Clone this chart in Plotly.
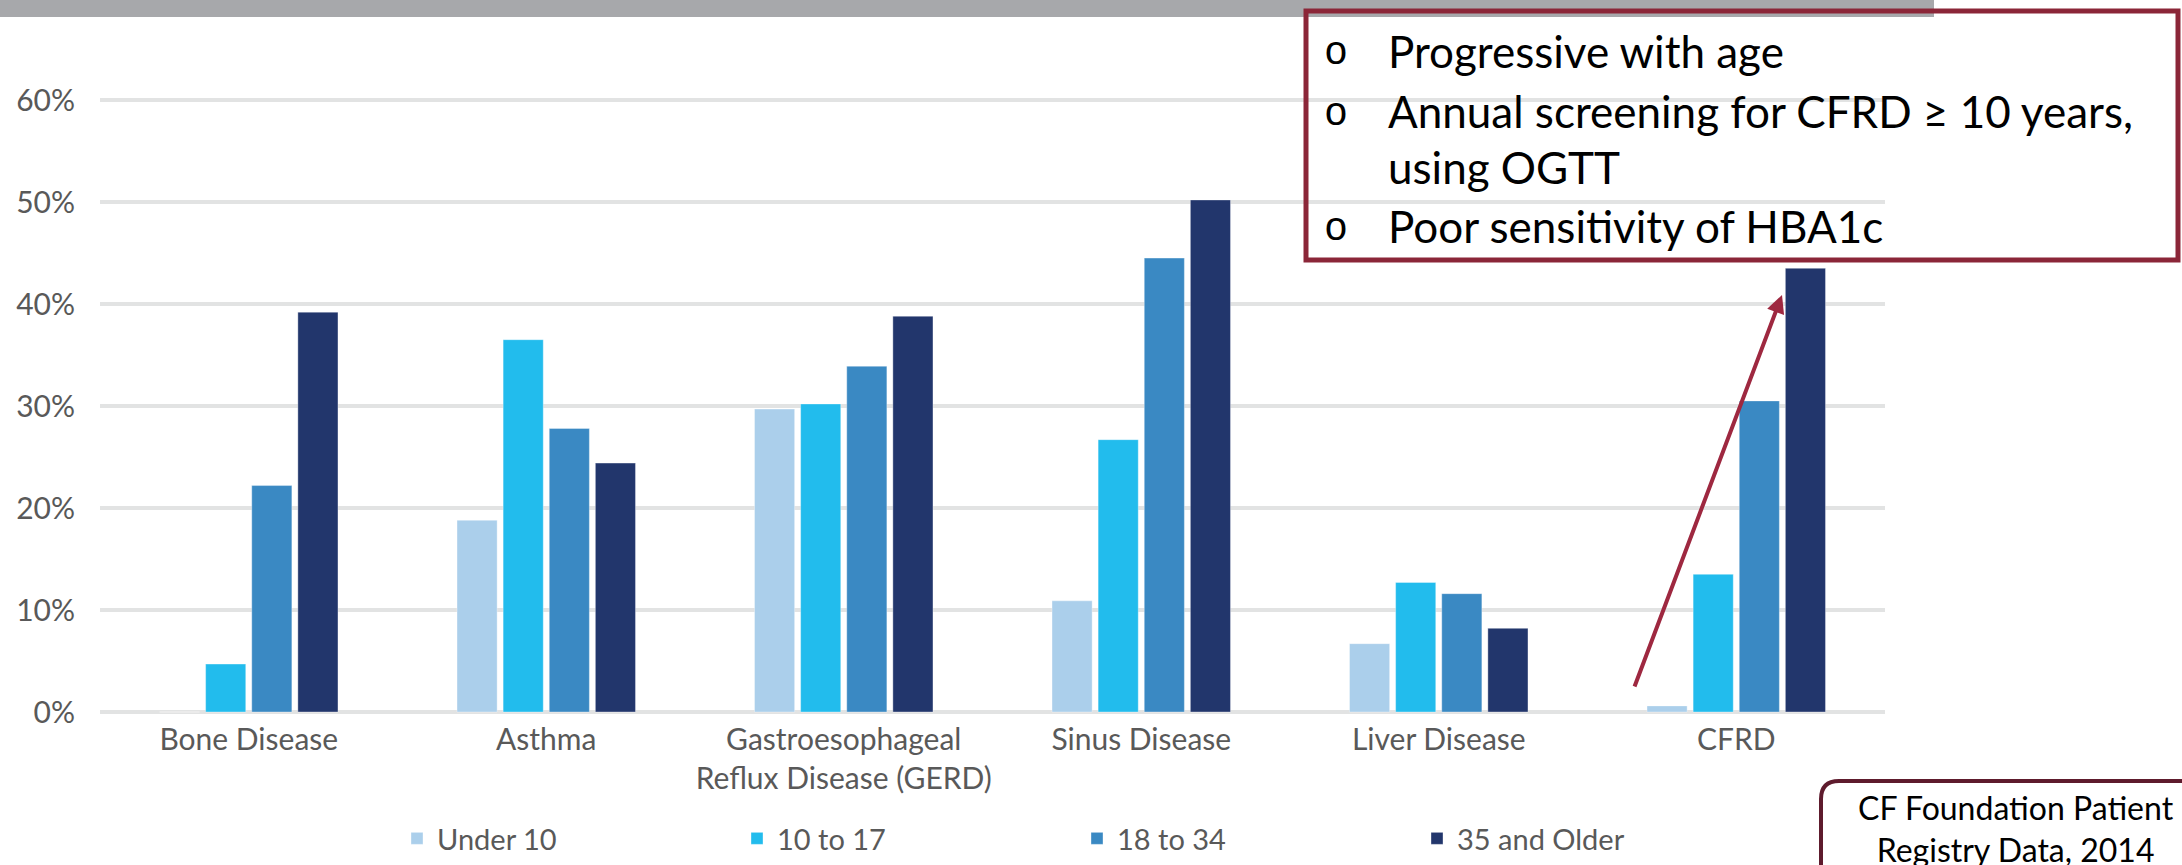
import plotly.graph_objects as go

# Share of patients with each complication, by age group
categories = ["Bone Disease", "Asthma", "Gastroesophageal<br>Reflux Disease (GERD)",
              "Sinus Disease", "Liver Disease", "CFRD"]
age_groups = ["Under 10", "10 to 17", "18 to 34", "35 and Older"]
under_10 = [0.0, 0.188, 0.297, 0.109, 0.067, 0.006]
age_10_17 = [0.047, 0.365, 0.302, 0.267, 0.127, 0.135]
age_18_34 = [0.222, 0.278, 0.339, 0.445, 0.116, 0.305]
age_35_up = [0.392, 0.244, 0.388, 0.502, 0.082, 0.435]
tick_vals = [0, 0.1, 0.2, 0.3, 0.4, 0.5, 0.6]

series = [under_10, age_10_17, age_18_34, age_35_up]
colors = ["#abcfeb", "#22bced", "#3a89c3", "#22366c"]

W, H = 2182, 865
ML, MR, MT, MB = 100, 297, 90, 150
PW, PH = W - ML - MR, H - MT - MB


def px_x(px):
    return (px - ML) / PW


def px_y(py):
    return (H - MB - py) / PH


fig = go.Figure()
for name, vals, col in zip(age_groups, series, colors):
    fig.add_trace(go.Bar(
        x=categories, y=vals, name=name,
        marker=dict(color=col, line=dict(color="rgba(255,255,255,0.35)", width=1)),
    ))

axis_font = dict(family="Lato", size=30, color="#595959")

fig.update_layout(
    width=W, height=H,
    margin=dict(l=ML, r=MR, t=MT, b=MB, pad=0, autoexpand=False),
    paper_bgcolor="white", plot_bgcolor="white",
    barmode="group", bargap=0.38, bargroupgap=0.13,
    font=axis_font,
    showlegend=True,
    legend=dict(
        orientation="h", x=px_x(397), xanchor="left", y=px_y(864), yanchor="bottom",
        font=dict(family="Lato", size=29, color="#595959"),
        entrywidth=295, entrywidthmode="pixels", itemwidth=30,
        bgcolor="rgba(0,0,0,0)", traceorder="normal",
    ),
    xaxis=dict(
        type="category", showgrid=False, showline=False, zeroline=False,
        ticks="", tickfont=axis_font, ticklabelstandoff=4, automargin=False,
    ),
    yaxis=dict(
        range=[-(715 - 712) / 1020, (712 - MT) / 1020],
        tickvals=tick_vals, tickformat=".0%",
        showgrid=True, gridcolor="#e2e3e3", gridwidth=4,
        zeroline=False, showline=False, ticks="",
        tickfont=dict(family="Lato", size=30, color="#595959"),
        ticklabelstandoff=24, automargin=False,
    ),
)

shapes = [
    # header band
    dict(type="rect", xref="paper", yref="paper",
         x0=px_x(0), x1=px_x(1934), y0=px_y(0), y1=px_y(17),
         fillcolor="#a7a8ab", line=dict(width=0), layer="above"),
    # note box
    dict(type="rect", xref="paper", yref="paper",
         x0=px_x(1306), x1=px_x(2178), y0=px_y(11), y1=px_y(260),
         fillcolor="rgba(0,0,0,0)", line=dict(color="#8b2638", width=5), layer="above"),
]

# source box with a rounded corner, running off the page edge
r = 18
src_path = (f"M {px_x(1821)},{px_y(900)} L {px_x(1821)},{px_y(781 + r)} "
            f"Q {px_x(1821)},{px_y(781)} {px_x(1821 + r)},{px_y(781)} "
            f"L {px_x(2240)},{px_y(781)}")
shapes.append(dict(type="path", xref="paper", yref="paper", path=src_path,
                   line=dict(color="#5e1b2d", width=4), layer="above"))
fig.update_layout(shapes=shapes)

notes = [
    ("Progressive with age", 51, True),
    ("Annual screening for CFRD \u2265 10 years,", 111, True),
    ("using OGTT", 167, False),
    ("Poor sensitivity of HBA1c", 226, True),
]
annotations = []
for text, cy, bullet in notes:
    annotations.append(dict(
        xref="paper", yref="paper", x=px_x(1386), y=px_y(cy),
        xanchor="left", yanchor="middle", showarrow=False, text=text,
        font=dict(family="Lato", size=44, color="#000000"),
    ))
    if bullet:
        annotations.append(dict(
            xref="paper", yref="paper", x=px_x(1336), y=px_y(cy + 3),
            xanchor="center", yanchor="middle", showarrow=False, text="o",
            font=dict(family="Liberation Mono", size=40, color="#000000"),
        ))

annotations.append(dict(
    xref="paper", yref="paper", x=px_x(2016), y=px_y(829),
    xanchor="center", yanchor="middle", showarrow=False,
    text="CF Foundation Patient<br>Registry Data, 2014", align="center",
    font=dict(family="Lato", size=32, color="#000000"),
))

# trend arrow over the CFRD bars
tip_x, tip_y = 1782, 295
tail_x, tail_y = 1634, 688
annotations.append(dict(
    xref="paper", yref="paper", x=px_x(tip_x), y=px_y(tip_y),
    ax=tail_x - tip_x, ay=tail_y - tip_y, axref="pixel", ayref="pixel",
    text="", showarrow=True, arrowhead=2, arrowsize=0.9, arrowwidth=4,
    arrowcolor="#9e2840", standoff=0,
))
fig.update_layout(annotations=annotations)

fig.write_html("out.html")
